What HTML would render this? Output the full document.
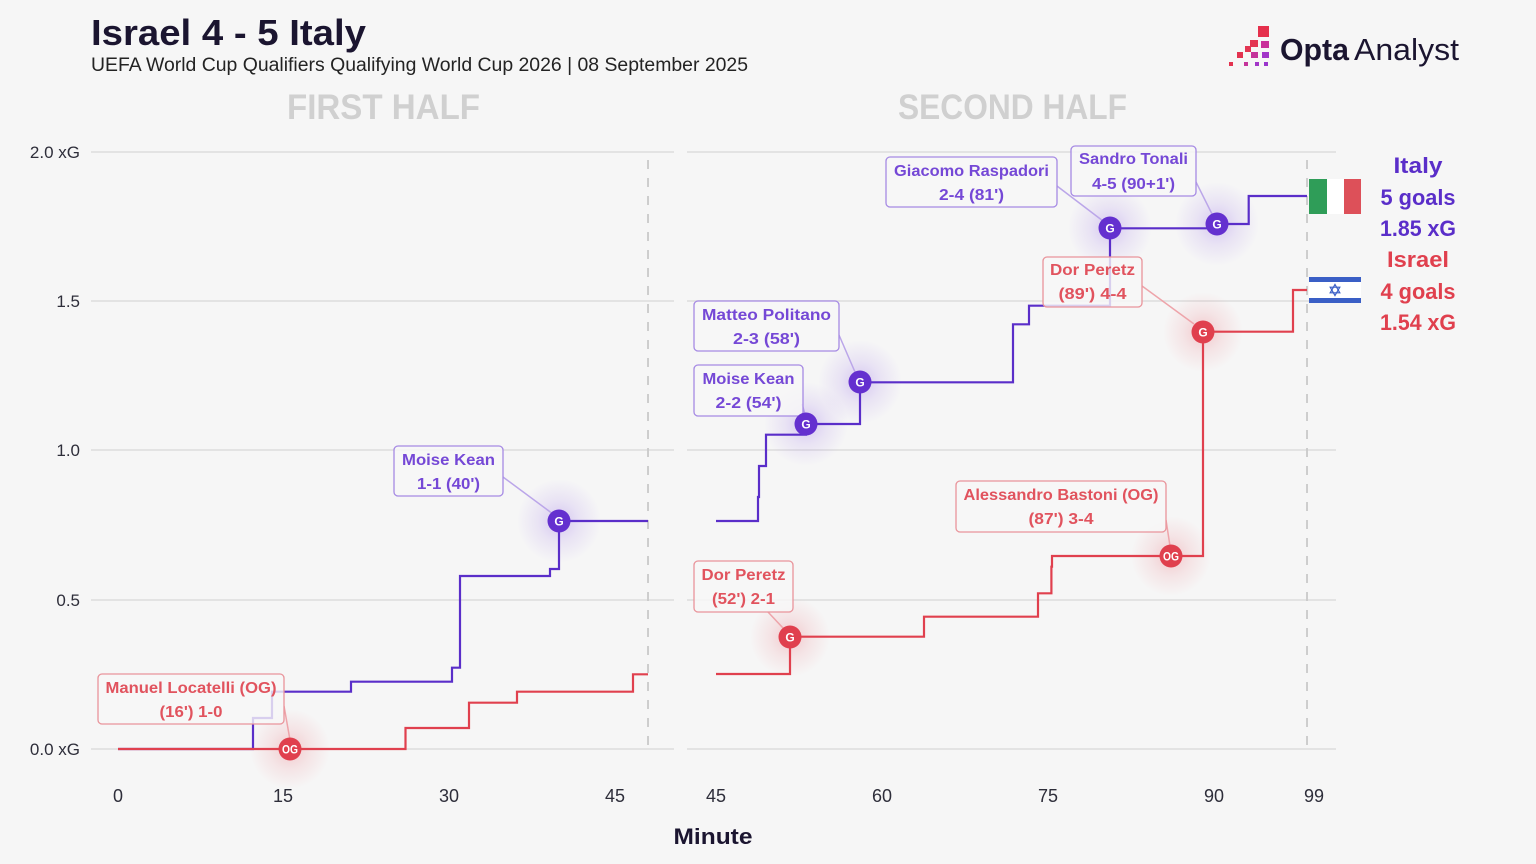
<!DOCTYPE html>
<html><head><meta charset="utf-8">
<style>
html,body{margin:0;padding:0;background:#f6f6f6;}
svg{display:block;}
text{font-family:"Liberation Sans",Arial,sans-serif;}
</style></head>
<body>
<svg width="1536" height="864" viewBox="0 0 1536 864" xmlns="http://www.w3.org/2000/svg">
<defs>
<radialGradient id="gp"><stop offset="0" stop-color="#7a46e0" stop-opacity="0.28"/><stop offset="0.5" stop-color="#8a5ae6" stop-opacity="0.12"/><stop offset="1" stop-color="#8a5ae6" stop-opacity="0"/></radialGradient>
<radialGradient id="gr"><stop offset="0" stop-color="#e8404f" stop-opacity="0.25"/><stop offset="0.5" stop-color="#e8404f" stop-opacity="0.1"/><stop offset="1" stop-color="#e8404f" stop-opacity="0"/></radialGradient>
</defs>
<rect width="1536" height="864" fill="#f6f6f6"/>

<!-- Header -->
<text x="91" y="45" font-size="36" font-weight="bold" fill="#1b1530" textLength="275" lengthAdjust="spacingAndGlyphs">Israel 4 - 5 Italy</text>
<text x="91" y="71" font-size="19" fill="#232323" textLength="657" lengthAdjust="spacingAndGlyphs">UEFA World Cup Qualifiers Qualifying World Cup 2026 | 08 September 2025</text>

<!-- Logo -->
<g>
<rect x="1258" y="26" width="11" height="11" fill="#e5304c"/>
<rect x="1250" y="40" width="8" height="7" fill="#e33552"/>
<rect x="1261" y="41" width="8" height="7" fill="#c9309a"/>
<rect x="1245" y="46" width="6" height="6" fill="#e33552"/>
<rect x="1237" y="52" width="6" height="6" fill="#e3324f"/>
<rect x="1251" y="52" width="7" height="6" fill="#c5339a"/>
<rect x="1262" y="52" width="7" height="6" fill="#a235c8"/>
<rect x="1229" y="62" width="4" height="4" fill="#e3324f"/>
<rect x="1244" y="62" width="4" height="4" fill="#c5339a"/>
<rect x="1255" y="62" width="4" height="4" fill="#a235c8"/>
<rect x="1264" y="62" width="4" height="4" fill="#9a35cc"/>
</g>
<text x="1280" y="60" font-size="31" font-weight="bold" fill="#1b1530" textLength="69" lengthAdjust="spacingAndGlyphs">Opta</text>
<text x="1354" y="60" font-size="31" fill="#1b1530" textLength="105" lengthAdjust="spacingAndGlyphs">Analyst</text>

<!-- Half titles -->
<text x="287" y="119" font-size="35" font-weight="bold" fill="#d0d0d0" textLength="193" lengthAdjust="spacingAndGlyphs">FIRST HALF</text>
<text x="898" y="119" font-size="35" font-weight="bold" fill="#d0d0d0" textLength="229" lengthAdjust="spacingAndGlyphs">SECOND HALF</text>

<!-- Gridlines -->
<g stroke="#e3e3e3" stroke-width="2">
<line x1="91" y1="152" x2="674" y2="152"/><line x1="687" y1="152" x2="1336" y2="152"/>
<line x1="91" y1="301" x2="674" y2="301"/><line x1="687" y1="301" x2="1336" y2="301"/>
<line x1="91" y1="450" x2="674" y2="450"/><line x1="687" y1="450" x2="1336" y2="450"/>
<line x1="91" y1="600" x2="674" y2="600"/><line x1="687" y1="600" x2="1336" y2="600"/>
<line x1="91" y1="749" x2="674" y2="749"/><line x1="687" y1="749" x2="1336" y2="749"/>
</g>
<g stroke="#c9c9c9" stroke-width="1.8" stroke-dasharray="9,9">
<line x1="648" y1="160" x2="648" y2="749"/>
<line x1="1307" y1="160" x2="1307" y2="749"/>
</g>

<!-- Y labels -->
<g font-size="17" fill="#2e2e3a" text-anchor="end">
<text x="80" y="158">2.0 xG</text>
<text x="80" y="307">1.5</text>
<text x="80" y="456">1.0</text>
<text x="80" y="606">0.5</text>
<text x="80" y="755">0.0 xG</text>
</g>
<!-- X labels -->
<g font-size="18" fill="#2e2e3a" text-anchor="middle">
<text x="118" y="802">0</text>
<text x="283" y="802">15</text>
<text x="449" y="802">30</text>
<text x="615" y="802">45</text>
<text x="716" y="802">45</text>
<text x="882" y="802">60</text>
<text x="1048" y="802">75</text>
<text x="1214" y="802">90</text>
<text x="1314" y="802">99</text>
</g>
<text x="713" y="844" font-size="22" font-weight="bold" fill="#1b1530" text-anchor="middle" textLength="79" lengthAdjust="spacingAndGlyphs">Minute</text>

<!-- Glows -->
<circle cx="290" cy="749" r="40" fill="url(#gr)"/>
<circle cx="559" cy="521" r="42" fill="url(#gp)"/>
<circle cx="806" cy="424" r="42" fill="url(#gp)"/>
<circle cx="860" cy="382" r="42" fill="url(#gp)"/>
<circle cx="1110" cy="228" r="42" fill="url(#gp)"/>
<circle cx="1217" cy="224" r="42" fill="url(#gp)"/>
<circle cx="790" cy="637" r="40" fill="url(#gr)"/>
<circle cx="1171" cy="556" r="40" fill="url(#gr)"/>
<circle cx="1203" cy="332" r="40" fill="url(#gr)"/>

<!-- Lines -->
<g fill="none" stroke-width="2.2" stroke-linejoin="miter">
<path stroke="#5a2ec9" d="M118,749 H253 V718 H272 V691.7 H351 V681.7 H452 V667.7 H460 V576 H550 V569 H559 V521 H648"/>
<path stroke="#e0404e" d="M118,749 H405.5 V728 H469 V702.7 H517 V691.7 H633 V674.3 H648"/>
<path stroke="#5a2ec9" d="M716,521 H758 V497 H759 V466 H766 V434.7 H806 V424 H860 V382.3 H1013 V324.3 H1029 V305.7 H1110 V228.3 H1217 V224 H1248.7 V196 H1307"/>
<path stroke="#e0404e" d="M716,674 H790 V636.7 H924 V616.7 H1038 V593.3 H1051.4 V566.7 H1052 V556 H1203 V331.7 H1293 V290 H1307"/>
</g>

<!-- Connectors -->
<g stroke-width="1.5" fill="none">
<line x1="284" y1="706" x2="290" y2="740" stroke="#eea4aa"/>
<line x1="503" y1="477" x2="553" y2="514" stroke="#bba6e9"/>
<line x1="839" y1="335" x2="855" y2="372" stroke="#bba6e9"/>
<line x1="802" y1="404" x2="805" y2="414" stroke="#bba6e9"/>
<line x1="1057" y1="186" x2="1103" y2="221" stroke="#bba6e9"/>
<line x1="1196" y1="182" x2="1212" y2="214" stroke="#bba6e9"/>
<line x1="1142" y1="286" x2="1194" y2="324" stroke="#eea4aa"/>
<line x1="1166" y1="520" x2="1170" y2="546" stroke="#eea4aa"/>
<line x1="768" y1="612" x2="783" y2="628" stroke="#eea4aa"/>
</g>

<!-- Label boxes -->
<g stroke-width="1.3">
<rect x="98" y="674" width="186" height="50" rx="4" fill="#f7f7f7" fill-opacity="0.8" stroke="#e9949b"/>
<rect x="394" y="446" width="109" height="50" rx="4" fill="#f7f7f7" fill-opacity="0.8" stroke="#a68ae4"/>
<rect x="694" y="301" width="145" height="50" rx="4" fill="#f7f7f7" fill-opacity="0.8" stroke="#a68ae4"/>
<rect x="694" y="365" width="109" height="51" rx="4" fill="#f7f7f7" fill-opacity="0.8" stroke="#a68ae4"/>
<rect x="886" y="157" width="171" height="50" rx="4" fill="#f7f7f7" fill-opacity="0.8" stroke="#a68ae4"/>
<rect x="1071" y="146" width="125" height="50" rx="4" fill="#f7f7f7" fill-opacity="0.8" stroke="#a68ae4"/>
<rect x="1043" y="257" width="99" height="50" rx="4" fill="#f7f7f7" fill-opacity="0.8" stroke="#e9949b"/>
<rect x="956" y="481" width="210" height="51" rx="4" fill="#f7f7f7" fill-opacity="0.8" stroke="#e9949b"/>
<rect x="694" y="561" width="99" height="51" rx="4" fill="#f7f7f7" fill-opacity="0.8" stroke="#e9949b"/>
</g>
<g font-size="16" font-weight="bold" text-anchor="middle">
<g fill="#e1535e">
<text x="191" y="693" textLength="171" lengthAdjust="spacingAndGlyphs">Manuel Locatelli (OG)</text>
<text x="191" y="717" textLength="63" lengthAdjust="spacingAndGlyphs">(16') 1-0</text>
<text x="1092.5" y="275" textLength="85" lengthAdjust="spacingAndGlyphs">Dor Peretz</text>
<text x="1092.5" y="299" textLength="68" lengthAdjust="spacingAndGlyphs">(89') 4-4</text>
<text x="1061" y="500" textLength="195" lengthAdjust="spacingAndGlyphs">Alessandro Bastoni (OG)</text>
<text x="1061" y="524" textLength="65" lengthAdjust="spacingAndGlyphs">(87') 3-4</text>
<text x="743.5" y="580" textLength="84" lengthAdjust="spacingAndGlyphs">Dor Peretz</text>
<text x="743.5" y="604" textLength="63" lengthAdjust="spacingAndGlyphs">(52') 2-1</text>
</g>
<g fill="#7548d6">
<text x="448.5" y="465" textLength="93" lengthAdjust="spacingAndGlyphs">Moise Kean</text>
<text x="448.5" y="489" textLength="63" lengthAdjust="spacingAndGlyphs">1-1 (40')</text>
<text x="766.5" y="320" textLength="129" lengthAdjust="spacingAndGlyphs">Matteo Politano</text>
<text x="766.5" y="344" textLength="67" lengthAdjust="spacingAndGlyphs">2-3 (58')</text>
<text x="748.5" y="384" textLength="92" lengthAdjust="spacingAndGlyphs">Moise Kean</text>
<text x="748.5" y="408" textLength="66" lengthAdjust="spacingAndGlyphs">2-2 (54')</text>
<text x="971.5" y="176" textLength="155" lengthAdjust="spacingAndGlyphs">Giacomo Raspadori</text>
<text x="971.5" y="200" textLength="65" lengthAdjust="spacingAndGlyphs">2-4 (81')</text>
<text x="1133.5" y="164" textLength="109" lengthAdjust="spacingAndGlyphs">Sandro Tonali</text>
<text x="1133.5" y="189" textLength="83" lengthAdjust="spacingAndGlyphs">4-5 (90+1')</text>
</g>
</g>

<!-- Markers -->
<g>
<circle cx="290" cy="749" r="11.5" fill="#e0404e"/>
<circle cx="559" cy="521" r="11.5" fill="#6430cf"/>
<circle cx="806" cy="424" r="11.5" fill="#6430cf"/>
<circle cx="860" cy="382" r="11.5" fill="#6430cf"/>
<circle cx="1110" cy="228" r="11.5" fill="#6430cf"/>
<circle cx="1217" cy="224" r="11.5" fill="#6430cf"/>
<circle cx="790" cy="637" r="11.5" fill="#e0404e"/>
<circle cx="1171" cy="556" r="11.5" fill="#e0404e"/>
<circle cx="1203" cy="332" r="11.5" fill="#e0404e"/>
</g>
<g font-size="12" font-weight="bold" fill="#ffffff" text-anchor="middle">
<text x="290" y="753.5" textLength="16" lengthAdjust="spacingAndGlyphs">OG</text>
<text x="559" y="525.5">G</text>
<text x="806" y="428.5">G</text>
<text x="860" y="386.5">G</text>
<text x="1110" y="232.5">G</text>
<text x="1217" y="228.5">G</text>
<text x="790" y="641.5">G</text>
<text x="1171" y="560.5" textLength="16" lengthAdjust="spacingAndGlyphs">OG</text>
<text x="1203" y="336.5">G</text>
</g>

<!-- Flags -->
<rect x="1309" y="179" width="18" height="35" fill="#2f9d58"/>
<rect x="1327" y="179" width="17" height="35" fill="#ffffff"/>
<rect x="1344" y="179" width="17" height="35" fill="#dd5059"/>
<rect x="1309" y="277" width="52" height="26" fill="#ffffff"/>
<rect x="1309" y="277" width="52" height="5" fill="#3a5fc6"/>
<rect x="1309" y="298" width="52" height="5" fill="#3a5fc6"/>
<g fill="none" stroke="#3a5fc6" stroke-width="1.2">
<polygon points="1335,284.5 1339.8,292.8 1330.2,292.8"/>
<polygon points="1335,295.5 1339.8,287.2 1330.2,287.2"/>
</g>

<!-- Legend text -->
<g font-size="22" font-weight="bold" text-anchor="middle">
<text x="1418" y="173" fill="#5a2ec9" textLength="49" lengthAdjust="spacingAndGlyphs">Italy</text>
<text x="1418" y="205" fill="#5a2ec9" textLength="75" lengthAdjust="spacingAndGlyphs">5 goals</text>
<text x="1418" y="236" fill="#5a2ec9" textLength="76" lengthAdjust="spacingAndGlyphs">1.85 xG</text>
<text x="1418" y="267" fill="#e0404e" textLength="62" lengthAdjust="spacingAndGlyphs">Israel</text>
<text x="1418" y="299" fill="#e0404e" textLength="75" lengthAdjust="spacingAndGlyphs">4 goals</text>
<text x="1418" y="330" fill="#e0404e" textLength="76" lengthAdjust="spacingAndGlyphs">1.54 xG</text>
</g>
</svg>
</body></html>
